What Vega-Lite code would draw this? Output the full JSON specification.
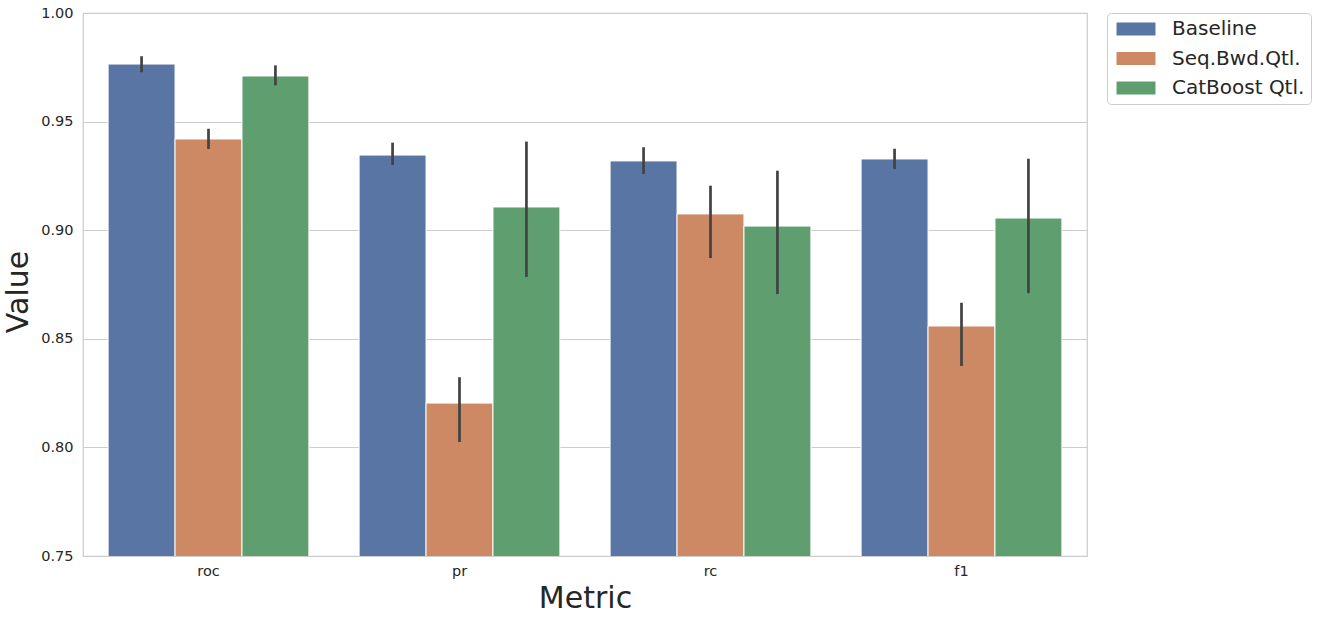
{
  "$schema": "https://vega.github.io/schema/vega-lite/v6.json",
  "width": 1004,
  "height": 543,
  "autosize": {"type": "none"},
  "padding": {"left": 83, "top": 13, "right": 232, "bottom": 65},
  "background": "white",
  "config": {
    "font": "DejaVu Sans",
    "view": {"stroke": "#cccccc", "strokeWidth": 1.25},
    "axis": {"labelColor": "#262626", "titleColor": "#262626", "labelFont": "DejaVu Sans", "titleFont": "DejaVu Sans", "titleFontWeight": "normal"}
  },
  "data": {
    "values": [
      {"metric": "roc", "model": "Baseline", "value": 0.9765, "lo": 0.9727, "hi": 0.9801},
      {"metric": "roc", "model": "Seq.Bwd.Qtl.", "value": 0.9420, "lo": 0.9374, "hi": 0.9467},
      {"metric": "roc", "model": "CatBoost Qtl.", "value": 0.9710, "lo": 0.9667, "hi": 0.9759},
      {"metric": "pr", "model": "Baseline", "value": 0.9346, "lo": 0.9300, "hi": 0.9403},
      {"metric": "pr", "model": "Seq.Bwd.Qtl.", "value": 0.8204, "lo": 0.8025, "hi": 0.8323},
      {"metric": "pr", "model": "CatBoost Qtl.", "value": 0.9107, "lo": 0.8785, "hi": 0.9408},
      {"metric": "rc", "model": "Baseline", "value": 0.9319, "lo": 0.9259, "hi": 0.9382},
      {"metric": "rc", "model": "Seq.Bwd.Qtl.", "value": 0.9075, "lo": 0.8872, "hi": 0.9205},
      {"metric": "rc", "model": "CatBoost Qtl.", "value": 0.9019, "lo": 0.8706, "hi": 0.9274},
      {"metric": "f1", "model": "Baseline", "value": 0.9328, "lo": 0.9282, "hi": 0.9375},
      {"metric": "f1", "model": "Seq.Bwd.Qtl.", "value": 0.8559, "lo": 0.8375, "hi": 0.8666},
      {"metric": "f1", "model": "CatBoost Qtl.", "value": 0.9056, "lo": 0.8710, "hi": 0.9329}
    ]
  },
  "encoding": {
    "x": {
      "field": "metric",
      "type": "nominal",
      "sort": ["roc", "pr", "rc", "f1"],
      "scale": {"paddingInner": 0.2, "paddingOuter": 0.1},
      "axis": {"title": "Metric", "labelAngle": 0, "labelFontSize": 14.5, "titleFontSize": 30, "ticks": false, "domain": false, "labelPadding": 8, "titlePadding": 6}
    },
    "xOffset": {
      "field": "model",
      "type": "nominal",
      "sort": ["Baseline", "Seq.Bwd.Qtl.", "CatBoost Qtl."],
      "scale": {"paddingInner": 0, "paddingOuter": 0}
    }
  },
  "layer": [
    {
      "mark": {"type": "bar", "stroke": "white", "strokeWidth": 1, "clip": true},
      "encoding": {
        "y": {
          "field": "value",
          "type": "quantitative",
          "scale": {"domain": [0.75, 1.0], "zero": false, "nice": false},
          "axis": {"title": "Value", "values": [0.75, 0.8, 0.85, 0.9, 0.95, 1.0], "format": ".2f", "labelFontSize": 14.5, "titleFontSize": 30, "ticks": false, "domain": false, "labelPadding": 10, "titlePadding": 7, "titleY": 278.5, "grid": true, "gridColor": "#cccccc", "gridWidth": 1}
        },
        "color": {
          "field": "model",
          "type": "nominal",
          "sort": ["Baseline", "Seq.Bwd.Qtl.", "CatBoost Qtl."],
          "scale": {"domain": ["Baseline", "Seq.Bwd.Qtl.", "CatBoost Qtl."], "range": ["#5975a4", "#cc8963", "#5f9e6e"]},
          "legend": {
            "title": null,
            "orient": "none",
            "legendX": 1024,
            "legendY": 0,
            "padding": 6,
            "strokeColor": "#cccccc",
            "fillColor": "white",
            "cornerRadius": 4,
            "labelFontSize": 20,
            "labelColor": "#262626",
            "labelFont": "DejaVu Sans",
            "labelAlign": "left",
            "symbolType": "M-2.05,-0.684H2.05V0.684H-2.05Z",
            "symbolSize": 361,
            "symbolStrokeWidth": 0,
            "symbolOffset": 13,
            "labelOffset": 26,
            "rowPadding": 9.5
          }
        }
      }
    },
    {
      "mark": {"type": "rule", "color": "#424242", "strokeWidth": 2.7},
      "encoding": {
        "y": {"field": "lo", "type": "quantitative"},
        "y2": {"field": "hi"}
      }
    }
  ]
}
